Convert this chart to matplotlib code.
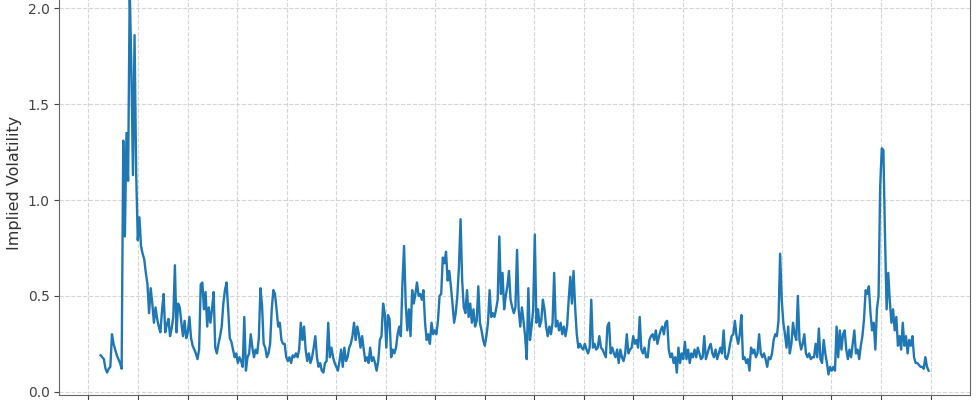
import matplotlib
matplotlib.use('Agg')
import matplotlib.pyplot as plt
import matplotlib.dates as mdates
import pandas as pd

# implied volatility, roughly evenly spaced in time
iv_2008_2009 = [0.19, 0.18, 0.17, 0.12, 0.10, 0.12, 0.13, 0.30, 0.25, 0.22, 0.19, 0.17,
                0.15, 0.12,
                1.31, 0.81, 1.35, 1.10, 2.10, 1.70, 1.13, 1.86, 1.14, 0.79,
                0.91, 0.76, 0.72, 0.69, 0.62, 0.56, 0.41, 0.54, 0.46, 0.36,
                0.44, 0.38, 0.34, 0.31, 0.42, 0.51, 0.31, 0.35, 0.38, 0.29,
                0.33, 0.39, 0.66, 0.31, 0.46, 0.44, 0.36, 0.29, 0.37, 0.28,
                0.31, 0.39, 0.28, 0.24, 0.22, 0.20, 0.17, 0.22]
iv_2010_2011 = [0.56, 0.57, 0.43, 0.52, 0.34, 0.44, 0.36, 0.43, 0.52, 0.23, 0.20, 0.25,
                0.29, 0.34, 0.46, 0.53, 0.57, 0.43, 0.28, 0.26, 0.22, 0.18, 0.20, 0.15,
                0.18, 0.16, 0.13, 0.39, 0.11, 0.18, 0.20, 0.30, 0.23, 0.18, 0.22, 0.20,
                0.28, 0.54, 0.45, 0.25, 0.23, 0.18, 0.20, 0.25, 0.43, 0.53, 0.51, 0.43,
                0.34, 0.36, 0.27, 0.25, 0.25, 0.18, 0.16, 0.18, 0.15, 0.19, 0.18, 0.20,
                0.18, 0.22]
iv_2012_2014 = [0.36, 0.27, 0.34, 0.22, 0.16, 0.20, 0.15, 0.18, 0.23, 0.29, 0.18, 0.13,
                0.15, 0.11, 0.10, 0.15, 0.16, 0.36, 0.18, 0.23, 0.18, 0.15, 0.13, 0.11,
                0.16, 0.22, 0.13, 0.23, 0.16, 0.18, 0.23, 0.25, 0.29, 0.36, 0.27, 0.34,
                0.30, 0.23, 0.29, 0.22, 0.16, 0.18, 0.15, 0.23, 0.16, 0.18, 0.15, 0.11,
                0.16, 0.27, 0.29, 0.46, 0.41, 0.23, 0.40, 0.38, 0.18, 0.22, 0.20, 0.23,
                0.30, 0.34, 0.29, 0.57]
iv_2014_2016 = [0.76, 0.46, 0.32, 0.43, 0.29, 0.53, 0.46, 0.51, 0.57, 0.50, 0.51, 0.48,
                0.53, 0.36, 0.27, 0.30, 0.25, 0.36, 0.30, 0.32, 0.30, 0.37, 0.50, 0.51,
                0.70, 0.67, 0.73, 0.58, 0.63, 0.55, 0.46, 0.36, 0.41, 0.50, 0.65, 0.90,
                0.58, 0.44, 0.41, 0.53, 0.39, 0.46, 0.36, 0.43, 0.34, 0.37, 0.55, 0.36,
                0.32, 0.27, 0.24, 0.29, 0.36, 0.53, 0.39, 0.41, 0.39, 0.43, 0.48, 0.81,
                0.51, 0.62]
iv_2016_2018 = [0.43, 0.50, 0.55, 0.63, 0.48, 0.44, 0.41, 0.44, 0.74, 0.43, 0.34, 0.44,
                0.37, 0.29, 0.17, 0.54, 0.27, 0.34, 0.43, 0.82, 0.36, 0.43, 0.34, 0.37,
                0.48, 0.43, 0.34, 0.29, 0.34, 0.30, 0.36, 0.62, 0.34, 0.37, 0.32, 0.36,
                0.30, 0.34, 0.29, 0.34, 0.48, 0.60, 0.46, 0.63, 0.44, 0.30, 0.23, 0.25,
                0.23, 0.22, 0.25, 0.22, 0.20, 0.23, 0.48, 0.23, 0.25, 0.22, 0.23, 0.29,
                0.23, 0.22, 0.20, 0.18]
iv_2018_2020 = [0.34, 0.36, 0.20, 0.23, 0.20, 0.18, 0.22, 0.15, 0.22, 0.18, 0.16, 0.20,
                0.30, 0.20, 0.22, 0.23, 0.29, 0.25, 0.27, 0.23, 0.39, 0.22, 0.20, 0.23,
                0.18, 0.18, 0.27, 0.29, 0.30, 0.27, 0.32, 0.25, 0.29, 0.32, 0.34, 0.30,
                0.36, 0.37, 0.22, 0.18, 0.20, 0.15, 0.18, 0.10, 0.23, 0.15, 0.20, 0.17,
                0.26, 0.17, 0.22, 0.15, 0.20, 0.18, 0.22, 0.18, 0.23, 0.20, 0.17, 0.18,
                0.29, 0.17, 0.20, 0.23, 0.25]
iv_2020_2022 = [0.20, 0.18, 0.22, 0.17, 0.20, 0.23, 0.20, 0.32, 0.18, 0.17, 0.20, 0.25,
                0.29, 0.30, 0.37, 0.29, 0.25, 0.30, 0.40, 0.17, 0.18, 0.15, 0.17, 0.11,
                0.23, 0.20, 0.22, 0.18, 0.20, 0.30, 0.20, 0.18, 0.20, 0.17, 0.13, 0.18,
                0.17, 0.20, 0.27, 0.30, 0.29, 0.37, 0.72, 0.48, 0.36, 0.30, 0.23, 0.34,
                0.20, 0.25, 0.36, 0.30, 0.27, 0.50, 0.27, 0.22, 0.25, 0.30, 0.20, 0.18,
                0.20, 0.17, 0.18]
iv_2022_2024 = [0.18, 0.25, 0.18, 0.33, 0.17, 0.15, 0.27, 0.20, 0.15, 0.09, 0.13, 0.11,
                0.13, 0.11, 0.34, 0.18, 0.32, 0.22, 0.30, 0.32, 0.22, 0.17, 0.22, 0.18,
                0.25, 0.32, 0.20, 0.22, 0.17, 0.24, 0.29, 0.38, 0.53, 0.51, 0.55, 0.41,
                0.32, 0.36, 0.22, 0.43, 0.50, 1.07, 1.27, 1.26, 0.81, 0.43, 0.62, 0.47,
                0.36, 0.43, 0.32, 0.39, 0.24, 0.29, 0.22, 0.36, 0.24, 0.29, 0.20, 0.27,
                0.24, 0.29, 0.18, 0.15, 0.15, 0.14, 0.13, 0.13, 0.12, 0.18, 0.13, 0.11]

iv = (iv_2008_2009 + iv_2010_2011 + iv_2012_2014 + iv_2014_2016 +
      iv_2016_2018 + iv_2018_2020 + iv_2020_2022 + iv_2022_2024)
dates = pd.date_range('2008-03-31', '2024-12-17', periods=len(iv))

fig = plt.figure(figsize=(9.78, 4.0), dpi=100)
# axes runs past the top and bottom of the canvas, like the cropped original
ax = fig.add_axes([0.0606, 0.0125, 0.9312, 1.0625])

ax.plot(dates, iv, color='#1f77b4', linewidth=1.7)

ax.set_ylim(-0.017, 2.2)
ax.set_yticks([0.0, 0.5, 1.0, 1.5, 2.0])
ax.xaxis.set_major_locator(mdates.YearLocator(1))
ax.xaxis.set_major_formatter(mdates.DateFormatter('%Y'))
ax.set_ylabel('Implied Volatility', fontsize=11.5, color='#333333')
ax.tick_params(axis='both', labelsize=10, colors='#444444')
ax.grid(True, linestyle='--', color='#cccccc', alpha=0.8, linewidth=0.8)
for s in ax.spines.values():
    s.set_color('#666666')

fig.savefig('out.png', dpi=100)
